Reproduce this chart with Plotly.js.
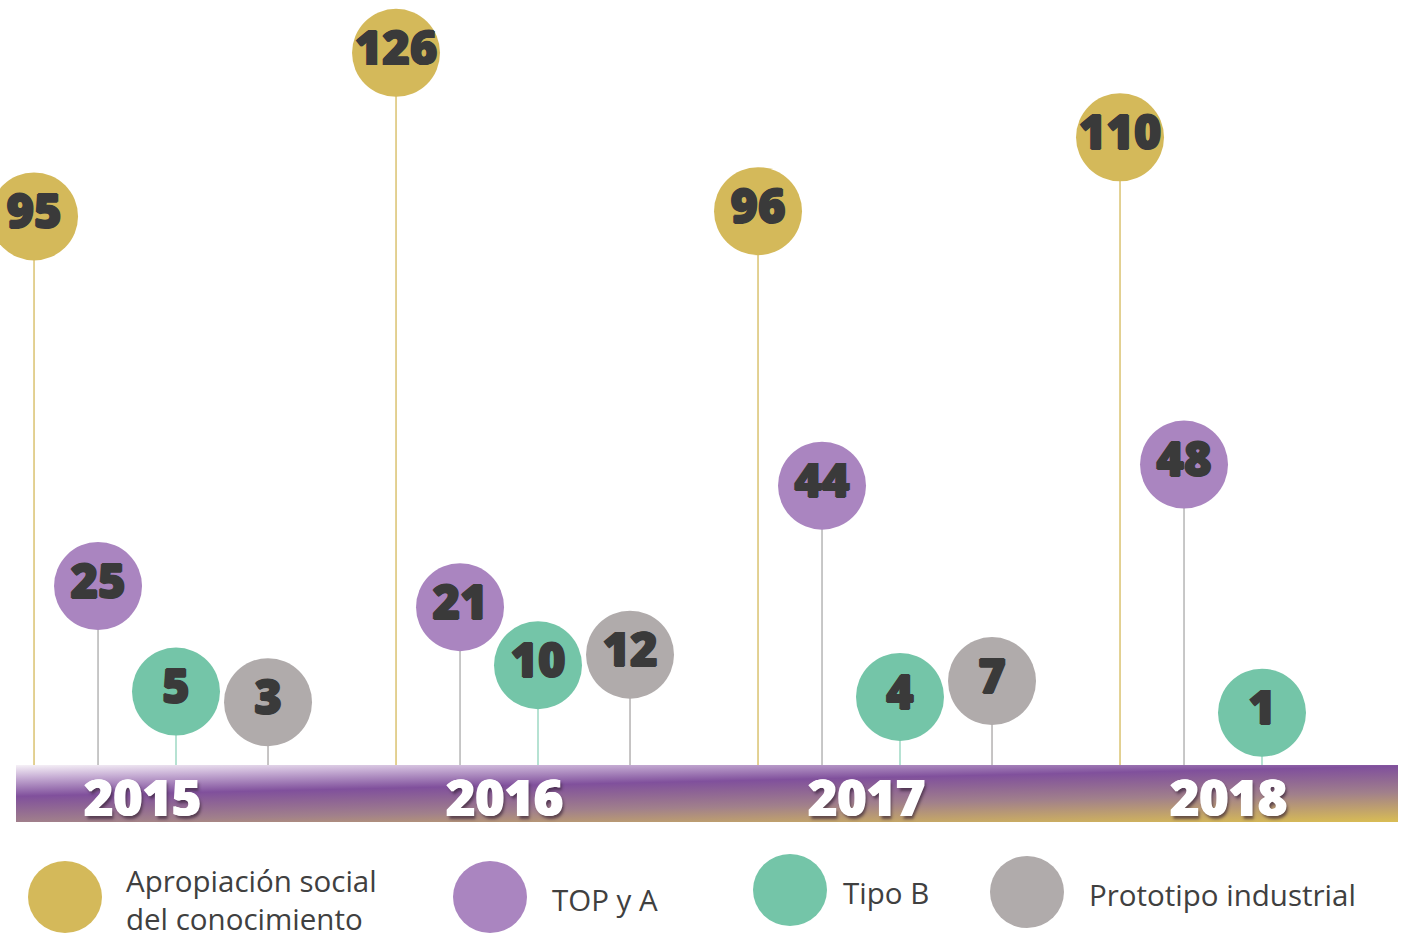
<!DOCTYPE html>
<html>
<head>
<meta charset="utf-8">
<script src="https://cdn.plot.ly/plotly-3.0.1.min.js"></script>
<style>
  html, body { margin: 0; padding: 0; background: #ffffff; }
  #chart { width: 1406px; height: 939px; }
</style>
</head>
<body>
<div id="chart"></div>
<script>
// ---- Data ----
const years = ['2015', '2016', '2017', '2018'];
const seriesNames = ['Apropiación social<br>del conocimiento', 'TOP y A', 'Tipo B', 'Prototipo industrial'];
const apropiacion = [95, 126, 96, 110];
const topYA = [25, 21, 44, 48];
const tipoB = [5, 10, 4, 1];
const prototipo = [3, 12, 7, null];

const seriesValues = [apropiacion, topYA, tipoB, prototipo];
const markerColors = ['#d4b95a', '#aa85c0', '#74c5a8', '#b0abab'];
const stemColors = ['#d4b95a', '#aaaaaa', '#8fd3bb', '#a9a5a5'];

// ---- Layout constants ----
const yRange = [-8.9, 136.0];
const xRange = [-0.4144, 3.4696];
const groupOffsets = [-0.3204, -0.1436, 0.0718, 0.326]; // position of each series within a year group
const numFont = '"Open Sans", "Noto Sans", sans-serif';
const thick = '0.9px 0 0 #3a3a3a, -0.9px 0 0 #3a3a3a, 0 0.9px 0 #3a3a3a, 0 -0.9px 0 #3a3a3a';

const traces = [];
// stems
seriesValues.forEach((vals, k) => {
  const xs = [], ys = [];
  vals.forEach((v, i) => {
    if (v === null) return;
    const x = i + groupOffsets[k];
    xs.push(x, x, null);
    ys.push(yRange[0], v, null);
  });
  traces.push({
    type: 'scatter', mode: 'lines', x: xs, y: ys,
    line: { color: stemColors[k], width: 1.3 },
    hoverinfo: 'skip', showlegend: false, cliponaxis: false
  });
});
// circles with numbers
seriesValues.forEach((vals, k) => {
  const xs = [], ys = [], txt = [];
  vals.forEach((v, i) => {
    if (v === null) return;
    xs.push(i + groupOffsets[k]);
    ys.push(v);
    txt.push(String(v));
  });
  traces.push({
    type: 'scatter', mode: 'markers+text', x: xs, y: ys, text: txt,
    textposition: 'middle center',
    textfont: { family: numFont, size: 47, color: '#3a3a3a', weight: 800, shadow: thick },
    marker: { size: 88, color: markerColors[k], line: { width: 0 } },
    hoverinfo: 'skip', showlegend: false, cliponaxis: false
  });
});

// gradient band image
const bandSvg =
  '<svg xmlns="http://www.w3.org/2000/svg" width="1382" height="57" viewBox="0 0 1382 57" preserveAspectRatio="none">' +
  '<defs><linearGradient id="g" gradientUnits="userSpaceOnUse" x1="0" y1="0" x2="1.9" y2="87">' +
  '<stop offset="0" stop-color="#f6f1f7"/>' +
  '<stop offset="0.14" stop-color="#c9b1d6"/>' +
  '<stop offset="0.36" stop-color="#80509c"/>' +
  '<stop offset="0.66" stop-color="#a1808b"/>' +
  '<stop offset="1" stop-color="#d9bd54"/>' +
  '</linearGradient></defs>' +
  '<rect x="0" y="0" width="1382" height="57" fill="url(#g)"/></svg>';
const bandSrc = 'data:image/svg+xml;charset=utf-8,' + encodeURIComponent(bandSvg);

const W = 1406, H = 939;
const px = p => p / W;
const py = p => 1 - p / H;

const annotations = [];
// year labels
years.forEach((y, i) => {
  annotations.push({
    xref: 'x', yref: 'paper', x: i - 0.02, y: py(797), text: y, showarrow: false,
    xanchor: 'center', yanchor: 'middle',
    font: { family: numFont, size: 50, color: '#ffffff', weight: 800,
            shadow: '0.8px 0 0 #ffffff, -0.8px 0 0 #ffffff, 2px 3px 3px rgba(50,30,50,0.65)' }
  });
});

// custom legend
const legendCircleX = [65, 490, 790, 1027];
const legendCircleY = [897, 897, 890, 892];
const legendTextX = [124, 550, 841, 1087];
const legendTextY = [899, 899, 892, 894];
const shapes = [];
seriesNames.forEach((name, k) => {
  shapes.push({
    type: 'circle', xref: 'paper', yref: 'paper',
    xsizemode: 'pixel', ysizemode: 'pixel',
    xanchor: px(legendCircleX[k]), yanchor: py(legendCircleY[k]),
    x0: -37, x1: 37, y0: -36, y1: 36,
    fillcolor: markerColors[k], line: { width: 0 }
  });
  annotations.push({
    xref: 'paper', yref: 'paper', x: px(legendTextX[k]), y: py(legendTextY[k]),
    text: name, showarrow: false, xanchor: 'left', yanchor: 'middle', align: 'left',
    font: { family: '"Open Sans", "Noto Sans", sans-serif', size: 29.5, color: '#404040' }
  });
});

const layout = {
  width: W, height: H,
  margin: { l: 0, r: 0, t: 0, b: 0 },
  paper_bgcolor: '#ffffff', plot_bgcolor: 'rgba(0,0,0,0)',
  showlegend: false, hovermode: false,
  xaxis: { range: xRange, domain: [0, 1], visible: false, fixedrange: true },
  yaxis: { range: yRange, domain: [py(765), 1], visible: false, fixedrange: true },
  images: [{
    source: bandSrc, xref: 'paper', yref: 'paper',
    x: px(16), y: py(765), sizex: px(1398) - px(16), sizey: py(765) - py(822),
    xanchor: 'left', yanchor: 'top', sizing: 'stretch', layer: 'below'
  }],
  shapes: shapes,
  annotations: annotations
};

Plotly.newPlot('chart', traces, layout, { displayModeBar: false, staticPlot: true });
</script>
</body>
</html>
